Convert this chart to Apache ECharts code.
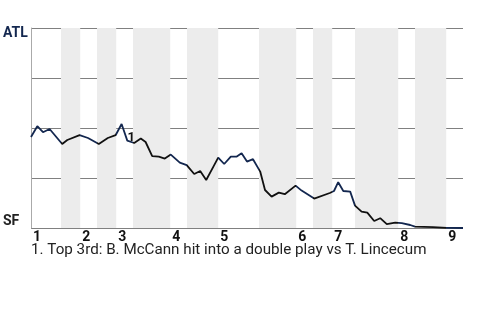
<!DOCTYPE html>
<html><head><meta charset="utf-8">
<script src="https://cdn.jsdelivr.net/npm/echarts@6/dist/echarts.min.js"></script>
<style>html,body{margin:0;padding:0;background:#fff}#c{width:480px;height:320px}</style>
</head><body><div id="c"></div>
<script>
const innings = ['1','2','3','4','5','6','7','8','9'];
const topStarts = [0, 8.2, 14.2, 23.2, 31.2, 44.2, 50.2, 61.2, 69.2];
const bottomStarts = [5.0, 11.0, 17.0, 26.0, 38.0, 47.0, 54.0, 64.0];
const gameEnd = 72;
const playX = [0, 1.05, 2.0, 3.1, 5.2, 6.05, 8.1, 9.5, 11.3, 12.8, 14.1, 15.1, 16.05, 17.2, 18.3, 19.1,
  20.2, 21.3, 22.3, 23.3, 24.8, 25.95, 27.2, 28.2, 29.2, 30.4, 31.2, 32.2, 33.3, 34.3, 35.1, 36.0, 37.0,
  38.2, 39.0, 40.1, 41.3, 42.3, 44.1, 45.1, 47.2, 49.8, 50.5, 51.2, 52.05, 53.2, 54.0, 55.1, 56.05, 57.2,
  58.2, 59.3, 60.7, 61.8, 63.2, 64.0, 67.0, 69.3, 72];
const atlWinProb = [0.455, 0.509, 0.479, 0.495, 0.42, 0.44, 0.464, 0.45, 0.42, 0.45, 0.464, 0.52, 0.437, 0.425, 0.447, 0.43,
  0.359, 0.357, 0.347, 0.367, 0.327, 0.314, 0.27, 0.285, 0.24, 0.307, 0.352, 0.32, 0.357, 0.357, 0.374, 0.332, 0.344,
  0.282, 0.19, 0.157, 0.177, 0.169, 0.212, 0.187, 0.147, 0.175, 0.185, 0.229, 0.185, 0.182, 0.112, 0.082, 0.077, 0.035,
  0.049, 0.019, 0.027, 0.024, 0.015, 0.007, 0.004, 0.001, 0.0];
const yLabels = ['SF', 'ATL'];
const noteIndex = 12;
const noteMark = '1';
const noteText = '1. Top 3rd: B. McCann hit into a double play vs T. Lincecum';

const NAVY = '#13274F', BLACK = '#111111';
const chart = echarts.init(document.getElementById('c'), null, {renderer: 'canvas'});
const lineData = playX.map((x, i) => [x, atlWinProb[i]]);
const bands = bottomStarts.map((s, i) => [{xAxis: s}, {xAxis: topStarts[i + 1]}]);
const pieces = bottomStarts.map((s, i) => ({gte: s, lt: topStarts[i + 1], color: BLACK}));

chart.setOption({
  animation: false,
  grid: {left: 31, right: 17, top: 28, bottom: 92},
  xAxis: {
    type: 'value', min: 0, max: gameEnd,
    axisLine: {show: false}, axisTick: {show: false}, splitLine: {show: false},
    axisLabel: {
      customValues: topStarts,
      formatter: (v) => innings[topStarts.indexOf(v)] || '',
      align: 'left', padding: [0, 0, 0, 2], margin: 2,
      fontSize: 14, fontWeight: 'bold', color: '#111', fontFamily: 'Roboto'
    }
  },
  yAxis: {
    type: 'value', min: 0, max: 1, interval: 0.25,
    axisLine: {show: true, lineStyle: {color: '#aaaaaa', width: 1}},
    axisTick: {show: false}, axisLabel: {show: false},
    splitLine: {show: true, lineStyle: {color: '#808080', width: 1}}
  },
  visualMap: {
    show: false, type: 'piecewise', dimension: 0, seriesIndex: 1,
    pieces: pieces, outOfRange: {color: NAVY}
  },
  series: [
    {
      type: 'line', data: [], z: -1, silent: true,
      markArea: {silent: true, itemStyle: {color: '#ececec', opacity: 1}, data: bands}
    },
    {
      type: 'line', data: lineData, symbol: 'none', z: 3,
      lineStyle: {width: 1.8},
      markPoint: {
        symbol: 'circle', symbolSize: 0,
        data: [{coord: lineData[noteIndex]}],
        label: {show: true, formatter: noteMark, position: 'inside', offset: [4, -3],
          fontSize: 13, fontWeight: 'bold', color: '#111', fontFamily: 'Roboto'}
      }
    }
  ],
  graphic: [
    {type: 'text', left: 3, top: 26, style: {text: yLabels[1], font: 'bold 14px Roboto', fill: NAVY}},
    {type: 'text', left: 3, top: 214, style: {text: yLabels[0], font: 'bold 14px Roboto', fill: '#222'}},
    {type: 'text', left: 31, top: 243, style: {text: noteText, font: '15.2px Roboto', fill: '#222'}}
  ]
});
</script></body></html>
